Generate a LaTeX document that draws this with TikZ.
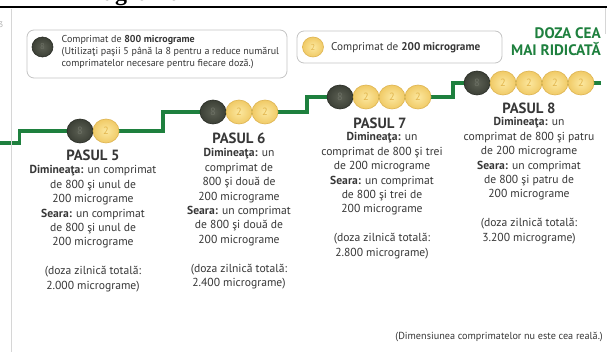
\documentclass[tikz,border=0pt]{standalone}
\usepackage{fontspec}
\setmainfont{PT Sans}
\newfontfamily\headfont{Liberation Serif}
\usetikzlibrary{shapes.geometric}

\definecolor{stepgreen}{RGB}{30,128,62}
\definecolor{textgray}{RGB}{55,55,55}
\definecolor{framegray}{RGB}{196,196,196}
\definecolor{rulegray}{RGB}{214,214,214}
\definecolor{darkpill}{RGB}{60,64,54}
\definecolor{darkpillin}{RGB}{92,96,84}
\definecolor{darkpilledge}{RGB}{40,43,36}
\definecolor{darkpillnum}{RGB}{108,112,100}
\definecolor{yellowpill}{RGB}{240,202,102}
\definecolor{yellowpillin}{RGB}{252,232,160}
\definecolor{yellowpilledge}{RGB}{222,180,80}
\definecolor{yellowpillnum}{RGB}{226,182,78}

\tikzset{
  pillbase/.style={ellipse, inner sep=0pt, minimum width=26, minimum height=24,
    line width=0.6, font=\fontsize{10.5}{10.5}\selectfont},
  pilleight/.style={pillbase, draw=darkpilledge, inner color=darkpillin,
    outer color=darkpill, text=darkpillnum},
  pilltwo/.style={pillbase, draw=yellowpilledge, inner color=yellowpillin,
    outer color=yellowpill, text=yellowpillnum},
  smallpill/.style={minimum width=21, minimum height=20, font=\fontsize{8.5}{8.5}\selectfont},
  stepline/.style={draw=stepgreen, line width=3.6, line join=miter},
  stephead/.style={inner sep=0pt, anchor=center, text=textgray,
    font=\bfseries\fontsize{14.8}{14.8}\selectfont},
  stepbody/.style={inner sep=0pt, anchor=north, align=center, text=textgray,
    font=\fontsize{11.6}{14.4}\selectfont},
  legendbox/.style={draw=framegray, line width=0.8, rounded corners=7, fill=white},
  legendtext/.style={inner sep=0pt, text=textgray, align=left,
    font=\fontsize{10}{12}\selectfont},
}

\begin{document}
\begin{tikzpicture}[x=1pt, y=-1pt]
\useasboundingbox (0,0) rectangle (607,352);
\fill[white] (0,0) rectangle (607,352);

% heading above the rule, cut off by the page edge
\begin{scope}
  \clip (0,0) rectangle (607,6.5);
  \node[inner sep=0pt, anchor=base west, font=\headfont\bfseries\fontsize{24}{24}\selectfont]
    (title) at (103,0.8) {agrama};
\end{scope}
\draw[black, line width=1.5] (0,7) -- (607,7);

% page margin marks
\node[inner sep=0pt, anchor=east, text=rulegray!80!black, font=\fontsize{8}{8}\selectfont]
  (pagemark) at (3.5,25) {3};
\draw[rulegray, line width=0.9] (605.5,8.5) -- (605.5,34);

% legend: 800 microgram tablet
\draw[legendbox] (27,30) rectangle (287,78);
\node[pilleight, smallpill] (legdark) at (42.5,47) {8};
\node[legendtext, anchor=north west] (legdarktext) at (61.5,35.5)
  {Comprimat de \textbf{800 micrograme}\\
   (Utilizaţi paşii 5 până la 8 pentru a reduce numărul\\
   comprimatelor necesare pentru fiecare doză.)};

% legend: 200 microgram tablet
\draw[legendbox] (297,31) rectangle (502,63);
\node[pilltwo, smallpill] (legyellow) at (313,47) {2};
\node[legendtext, anchor=base west, font=\fontsize{11.2}{12}\selectfont] (legyellowtext)
  at (331,50.5) {Comprimat de \textbf{200 micrograme}};

% highest dose label
\node[inner sep=0pt, anchor=north east, align=right, text=stepgreen,
  font=\bfseries\fontsize{15.2}{17}\selectfont] (topdose) at (601,27.5)
  {DOZA CEA\\MAI RIDICATĂ};

% staircase
\coordinate (s0) at (0,143);
\coordinate (s1) at (19.5,143);
\coordinate (s2) at (19.5,131);
\coordinate (s3) at (163,131);
\coordinate (s4) at (163,112);
\coordinate (s5) at (307,112);
\coordinate (s6) at (307,97);
\coordinate (s7) at (453,97);
\coordinate (s8) at (453,83);
\coordinate (s9) at (601,83);
\draw[stepline] (s0) -- (s1) -- (s2) -- (s3) -- (s4) -- (s5) -- (s6) -- (s7) -- (s8) -- (s9);

% left margin rule
\draw[rulegray, line width=0.9] (11.5,9) -- (11.5,352);

% tablets on each step
\node[pilleight] (p5a) at (80,131) {8};
\node[pilltwo]   (p5b) at (106,131) {2};

\node[pilleight] (p6a) at (213,112) {8};
\node[pilltwo]   (p6b) at (239,112) {2};
\node[pilltwo]   (p6c) at (265,112) {2};

\node[pilleight] (p7a) at (340,97) {8};
\node[pilltwo]   (p7b) at (366,97) {2};
\node[pilltwo]   (p7c) at (392,97) {2};
\node[pilltwo]   (p7d) at (418,97) {2};

\node[pilleight] (p8a) at (477,83) {8};
\node[pilltwo]   (p8b) at (503,83) {2};
\node[pilltwo]   (p8c) at (529,83) {2};
\node[pilltwo]   (p8d) at (555,83) {2};
\node[pilltwo]   (p8e) at (581,83) {2};

% step 5
\node[stephead] (h5) at (93,155) {PASUL 5};
\node[stepbody] (b5) at (93,165.5) {\textbf{Dimineaţa:} un comprimat\\
  de 800 şi unul de\\ 200 micrograme\\ \textbf{Seara:} un comprimat\\
  de 800 şi unul de\\ 200 micrograme\\[14.4pt]
  (doza zilnică totală:\\ 2.000 micrograme)};

% step 6
\node[stephead] (h6) at (239,138) {PASUL 6};
\node[stepbody] (b6) at (239,148.5) {\textbf{Dimineaţa:} un\\ comprimat de\\
  800 şi două de\\ 200 micrograme\\ \textbf{Seara:} un comprimat\\
  de 800 şi două de\\ 200 micrograme\\[14.4pt]
  (doza zilnică totală:\\ 2.400 micrograme)};

% step 7
\node[stephead] (h7) at (380,123) {PASUL 7};
\node[stepbody] (b7) at (382,132.5) {\textbf{Dimineaţa:} un\\
  comprimat de 800 şi trei\\ de 200 micrograme\\ \textbf{Seara:} un comprimat\\
  de 800 şi trei de\\ 200 micrograme\\[14.4pt]
  (doza zilnică totală:\\ 2.800 micrograme)};

% step 8
\node[stephead] (h8) at (529,108) {PASUL 8};
\node[stepbody] (b8) at (529,117.5) {\textbf{Dimineaţa:} un\\
  comprimat de 800 şi patru\\ de 200 micrograme\\ \textbf{Seara:} un comprimat\\
  de 800 şi patru de\\ 200 micrograme\\[14.4pt]
  (doza zilnică totală:\\ 3.200 micrograme)};

% footnote
\node[inner sep=0pt, anchor=base east, text=textgray, font=\fontsize{10.2}{11}\selectfont]
  (note) at (603,339.5) {(Dimensiunea comprimatelor nu este cea reală.)};
\end{tikzpicture}
\end{document}
